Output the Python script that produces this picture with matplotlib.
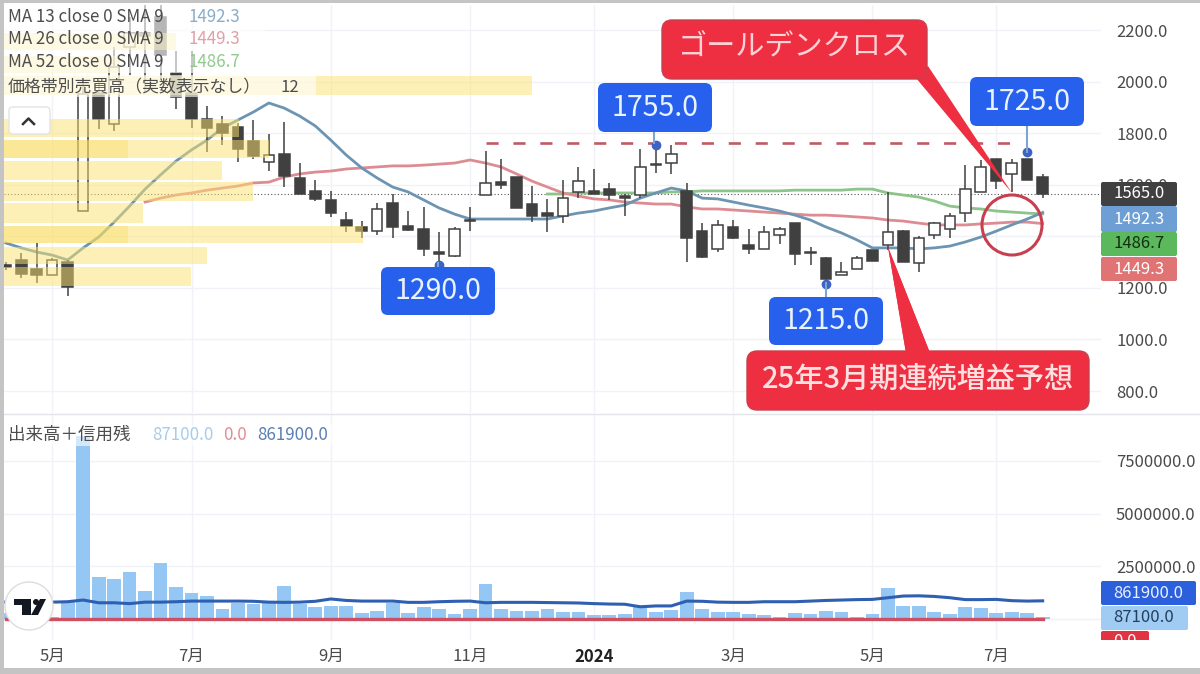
import matplotlib
matplotlib.use("Agg")
import matplotlib.pyplot as plt
from matplotlib.patches import FancyBboxPatch, Rectangle, Polygon, Circle
import numpy as np

plt.rcParams['font.family'] = ['Noto Sans CJK JP', 'DejaVu Sans']

# ---- data -------------------------------------------------------------
opens = [1290,1310,1275,1250,1300,1500,1955,1835,2135,2190,2250,2035,1955,1855,1835,1825,1770,1690,1720,1625,
         1575,1540,1465,1435,1420,1530,1440,1430,1340,1325,1460,1560,1610,1630,1525,1490,1480,1570,1575,1585,
         1555,1560,1675,1685,1575,1420,1350,1435,1365,1350,1405,1450,1340,1315,1250,1275,1345,1365,1420,1295,
         1405,1430,1490,1570,1700,1640,1700,1630]
highs = [1300,1335,1375,1315,1310,2000,2005,2135,2250,2300,2310,2120,2120,1905,1865,1840,1850,1795,1845,1685,
         1620,1575,1495,1460,1530,1565,1500,1515,1415,1435,1515,1730,1700,1630,1595,1545,1620,1670,1660,1605,
         1565,1740,1740,1755,1605,1450,1465,1465,1430,1440,1435,1450,1360,1320,1300,1325,1345,1570,1425,1400,
         1455,1490,1675,1695,1700,1700,1700,1640]
lows  = [1270,1240,1220,1250,1170,1500,1815,1810,2025,1960,2005,1895,1820,1725,1755,1690,1700,1655,1590,1565,
         1535,1475,1415,1395,1405,1395,1420,1325,1290,1320,1420,1560,1585,1510,1455,1415,1450,1550,1565,1540,
         1480,1550,1645,1640,1300,1315,1340,1390,1330,1350,1370,1290,1290,1230,1250,1275,1305,1345,1300,1260,
         1390,1395,1455,1570,1585,1570,1620,1550]
closes= [1280,1255,1250,1310,1205,1950,1855,2055,2190,2175,2105,1940,1855,1820,1800,1740,1710,1715,1635,1565,
         1545,1490,1440,1420,1505,1435,1425,1350,1330,1430,1465,1605,1600,1510,1480,1480,1550,1615,1565,1560,
         1550,1670,1680,1720,1395,1320,1445,1395,1350,1415,1430,1330,1335,1235,1260,1315,1305,1415,1300,1395,
         1450,1480,1585,1670,1615,1685,1620,1565]

ma13 = [1374,1355,1339,1327,1308,1355,1397,1455,1517,1583,1638,1692,1735,1773,1820,1851,1882,1917,1897,1866,
        1828,1773,1715,1665,1626,1591,1572,1541,1510,1486,1467,1467,1467,1467,1467,1467,1479,1490,1498,1510,
        1521,1548,1568,1587,1576,1548,1545,1533,1521,1510,1498,1482,1463,1436,1413,1386,1355,1355,1355,1351,
        1355,1362,1378,1397,1420,1444,1467,1492.3]
ma26 = [1533,1548,1560,1568,1579,1587,1595,1607,1610,1630,1642,1649,1653,1661,1665,1669,1673,1673,1676,1680,
        1684,1696,1684,1669,1642,1614,1591,1568,1556,1545,1541,1533,1529,1525,1525,1514,1506,1506,1502,1498,
        1494,1490,1486,1482,1482,1479,1475,1471,1463,1459,1451,1444,1444,1444,1448,1451,1455,1455,1449.3]
ma52 = [1564,1564,1568,1568,1568,1568,1568,1568,1572,1572,1576,1576,1576,1576,1576,1576,1579,1579,1579,1579,
        1583,1583,1568,1560,1552,1537,1517,1510,1506,1498,1494,1490,1486.7]
ma26_start = 9
ma52_start = 35

peak_high = 1755
peak_idx = 42
high2 = 1725
high2_idx = 66
low1 = 1290
low1_idx = 28
low2 = 1215
low2_idx = 53
ref_line_price = 1760
ref_line_from = 31
ref_line_to = 65

profile_top    = [2188,2100,2022,1855,1773,1692,1610,1529,1440,1358,1281]
profile_bottom = [2122,2035,1948,1785,1704,1618,1537,1451,1374,1292,1207]
profile_volume = [11.1,7.4,34.1,15.2,17.1,14.1,16.1,9.0,23.2,13.1,12.1]
profile_extra  = [0,0,0,0,8.0,0,0,0,8.0,0,0]

volume = [300000,300000,300000,100000,820000,8700000,1970000,1900000,2240000,1330000,2640000,1530000,1250000,1090000,
          460000,770000,700000,740000,1580000,700000,580000,630000,630000,300000,400000,740000,300000,580000,460000,
          240000,460000,1640000,470000,400000,400000,470000,350000,350000,170000,170000,240000,550000,350000,430000,
          1300000,460000,350000,350000,240000,170000,100000,300000,240000,400000,350000,100000,240000,1450000,620000,
          620000,350000,240000,550000,500000,300000,350000,300000,87100]
margin = [800000,800000,800000,800000,820000,900000,770000,770000,730000,800000,800000,820000,850000,850000,850000,
          850000,840000,800000,790000,800000,840000,950000,880000,850000,850000,850000,790000,790000,820000,840000,
          850000,770000,790000,790000,790000,780000,770000,760000,730000,710000,700000,580000,620000,620000,850000,
          840000,800000,790000,790000,820000,820000,820000,850000,880000,900000,920000,930000,1010000,1090000,1100000,
          1070000,1010000,920000,920000,930000,870000,850000,861900]
sell_margin = [0]*68

price_ticks = [800,1000,1200,1400,1600,1800,2000,2200]
price_hidden = [1400]
vol_ticks = [0,2500000,5000000,7500000]
month_idx = [3,12,21,30,38,47,56,64]
month_labels = ['5月','7月','9月','11月','2024','3月','5月','7月']

# ---- style ------------------------------------------------------------
W, H = 1200, 674
DARK = '#404040'
GRID = '#f0f2f7'
fig = plt.figure(figsize=(12, 6.74), dpi=100, facecolor='white')
L, R = 4, 1101
ax = fig.add_axes([L/W, (H-413)/H, (R-L)/W, (413-5)/H])
av = fig.add_axes([L/W, (H-640)/H, (R-L)/W, (640-414)/H])
ix = np.arange(len(opens))
xlim = (-0.116, 70.77)

# price panel
for a in (ax, av):
    a.set_xlim(*xlim)
    a.set_facecolor('white')
    for s in a.spines.values():
        s.set_visible(False)
    a.set_xticks(month_idx)
    a.grid(True, color=GRID, lw=1)
    a.set_axisbelow(True)
    a.yaxis.tick_right()
    a.tick_params(length=0, labelsize=12, labelcolor='#4a4a4a')
    a.tick_params(axis='y', pad=10.8)
ax.set_ylim(714.7, 2297)
ax.set_yticks(price_ticks)
ax.set_yticklabels(['' if v in price_hidden else f'{v:.1f}' for v in price_ticks])
ax.tick_params(axis='x', labelbottom=False)

ax.axhline(closes[-1], color='#555555', lw=0.8, ls=(0, (1, 2)), zorder=1.5)
ax.plot(ix, [np.nan]*ma52_start + ma52, color='#8cc48a', lw=2, zorder=2)
ax.plot(ix, [np.nan]*ma26_start + ma26, color='#de8c93', lw=2, zorder=2.1)
ax.plot(ix, ma13, color='#6d95b2', lw=2, zorder=2.2)

body_w = 0.68
for i, o, h, l, c in zip(ix, opens, highs, lows, closes):
    up = c >= o
    ax.plot([i, i], [l, h], color=DARK, lw=1.1, zorder=3, solid_capstyle='butt')
    ax.bar(i, abs(c-o), bottom=min(o, c), width=body_w, color='white' if up else DARK,
           edgecolor=DARK, lw=1.1, zorder=3.2)

# dashed reference line and extreme dots
ax.plot([ref_line_from, ref_line_to], [ref_line_price]*2, color='#c05a66', lw=1.9,
        ls=(0, (4.6, 5.6)), zorder=3.5)
for i, p in [(peak_idx, peak_high), (high2_idx, high2), (low1_idx, low1), (low2_idx, low2)]:
    ax.plot([i], [p], 'o', color='#3d63c4', ms=6, zorder=6)

# volume profile on top of the candles
for t, b, v, e in zip(profile_top, profile_bottom, profile_volume, profile_extra):
    ax.barh((t+b)/2, v, height=t-b, left=xlim[0], color='#fce36e', alpha=0.5, lw=0, zorder=5)
    if e:
        ax.barh((t+b)/2, e, height=t-b, left=xlim[0], color='#f9d84e', alpha=0.3, lw=0, zorder=5.1)

# volume panel
av.set_ylim(-996000, 9725000)
av.set_yticks(vol_ticks)
av.set_yticklabels(['' if v == 0 else f'{v:.1f}' for v in vol_ticks])
av.set_xticklabels(month_labels)
for lab, txt_ in zip(av.get_xticklabels(), month_labels):
    if txt_ == '2024':
        lab.set_fontweight('bold')
        lab.set_color('#222222')
av.tick_params(axis='x', pad=6)
av.tick_params(axis='y', pad=10.8)
av.bar(ix, volume, width=0.89, color='#94c7f4', lw=0, zorder=2)
av.plot(ix, margin, color='#2f5fb0', lw=2.2, zorder=3)
av.plot(ix, sell_margin, color='#cf4f60', lw=2.4, zorder=4)

# ---- overlay in pixels (annotations) -----------------------------------
ov = fig.add_axes([0, 0, 1, 1], zorder=10)
ov.set_xlim(0, W); ov.set_ylim(H, 0); ov.axis('off'); ov.patch.set_alpha(0)

def rect(x0, y0, x1, y1, c, alpha=1, z=1, ec='none', lw=0):
    ov.add_patch(Rectangle((x0, y0), x1-x0, y1-y0, fc=c, ec=ec, lw=lw, alpha=alpha, zorder=z))

def rbox(x0, y0, x1, y1, c, z=3, r=9, ec='none', lw=0):
    ov.add_patch(FancyBboxPatch((x0+r, y0+r), x1-x0-2*r, y1-y0-2*r,
                                boxstyle=f'round,pad={r},rounding_size={r}', fc=c, ec=ec, lw=lw, zorder=z))

def txt(x, y, s, c='#4d4d4d', fs=12, ha='left', z=8, **k):
    ov.text(x, y, s, color=c, fontsize=fs, ha=ha, va='center', zorder=z, **k)

# panel divider
ov.plot([L, W], [413.5, 413.5], color='#e2e4ea', lw=1, zorder=0.5)

# legend veils
rect(4, 5, 265, 73, 'white', alpha=0.62)
rect(4, 75, 316, 97, 'white', alpha=0.62)
rect(4, 425, 335, 446, 'white', alpha=0.6)

for y, s, v, c in [(17, 'MA 13 close 0 SMA 9', '1492.3', '#88aecb'),
                   (39, 'MA 26 close 0 SMA 9', '1449.3', '#e0a0a8'),
                   (62, 'MA 52 close 0 SMA 9', '1486.7', '#8fcb8c')]:
    txt(8, y, s, fs=12.2)
    txt(188, y, v, c=c, fs=12.2)
txt(8, 87, '価格帯別売買高（実数表示なし）', fs=12.2)
txt(280, 87, '12', fs=12)

# collapse button
rbox(9, 107, 50, 134, 'white', r=4, ec='#e3e3e3', lw=1)
ov.plot([23, 28.5, 34], [124, 118.5, 124], color='#333333', lw=1.8, zorder=4)

# blue price tags
BLUE = '#2860ee'
for x0, y0, x1, y1, s, sx, sy0, sy1 in [
        (381, 267, 495, 315, '1290.0', 438, 263, 267),
        (598, 83, 712, 132, '1755.0', 654, 132, 143),
        (970, 77, 1084, 126, '1725.0', 1027, 126, 152),
        (769, 297, 883, 345, '1215.0', 826, 283, 297)]:
    ov.plot([sx, sx], [sy0, sy1], color='#7ea5cf', lw=1.5, zorder=2)
    rbox(x0, y0, x1, y1, BLUE, r=7)
    txt((x0+x1)/2, (y0+y1)/2, s, c='#e9f3ff', fs=20.5, ha='center')

# red callouts
RED = '#ee2f42'
ov.add_patch(Polygon([[916, 78], [928, 66], [1012, 193]], fc=RED, ec='none', zorder=3))
rbox(662, 20, 927, 79, RED, r=10, ec='#c8404d', lw=1)
ov.add_patch(Polygon([[906, 353], [930, 353], [888, 247]], fc=RED, ec='none', zorder=3))
rbox(747, 351, 1089, 410, RED, r=10, ec='#c8404d', lw=1)
ov.add_patch(Polygon([[906, 353], [930, 353], [888, 247]], fc=RED, ec='none', zorder=3.1))
txt(794.5, 48, 'ゴールデンクロス', c='#ffd2d6', fs=21, ha='center')
txt(918, 379, '25年3月期連続増益予想', c='#ffe0e0', fs=21, ha='center', fontweight='medium')
ov.add_patch(Circle((1012, 225), 30, fc='none', ec='#c8404f', lw=2.2, zorder=4))

# last-value tags
for y0, y1, c, s, tc in [(182, 206, DARK, '1565.0', 'white'),
                         (206, 232, '#6d9fd4', '1492.3', 'white'),
                         (232, 256, '#5cb85c', '1486.7', '#103010'),
                         (257, 281, '#e07474', '1449.3', 'white')]:
    rbox(1101, y0, 1177, y1, c, r=2)
    txt(1139, (y0+y1)/2, s, c=tc, fs=12, ha='center')

# lower legend
txt(8, 435, '出来高＋信用残', fs=12.6)
txt(152, 435, '87100.0', c='#a6cdec', fs=12.2)
txt(223, 435, '0.0', c='#e08c96', fs=12.2)
txt(257, 435, '861900.0', c='#5b80b5', fs=12.2)

# lower tags
rbox(1101, 631, 1149, 650, '#e23342', r=2)
txt(1125, 642, '0.0', c='white', fs=12, ha='center', z=3.5)
rect(1100, 640, 1200, 668, 'white', z=3.8)
rbox(1101, 606, 1188, 630, '#a0cbf3', r=2)
txt(1144, 618, '87100.0', c='#23405e', fs=12, ha='center')
rbox(1101, 581, 1196, 605, '#2b5fdc', r=2)
txt(1148, 593, '861900.0', c='#e6f0ff', fs=12, ha='center')

# logo
ov.add_patch(Circle((29, 606), 24, fc='white', ec='#dddddd', lw=1, zorder=5))
ov.add_patch(Polygon([[14, 599], [31, 599], [31, 615], [22, 615], [22, 605], [14, 605]], fc='#131722', zorder=6))
ov.add_patch(Circle((36, 602), 3, fc='#131722', ec='none', zorder=6))
ov.add_patch(Polygon([[40, 599], [46, 599], [38, 615], [31, 615]], fc='#131722', zorder=6))

# photo frame
FR = '#c4c4c4'
rect(0, 0, W, 3, FR, z=9)
rect(0, 0, 4, H, FR, z=9)
rect(0, 668, W, H, FR, z=9)

fig.savefig('out.png', dpi=100)
